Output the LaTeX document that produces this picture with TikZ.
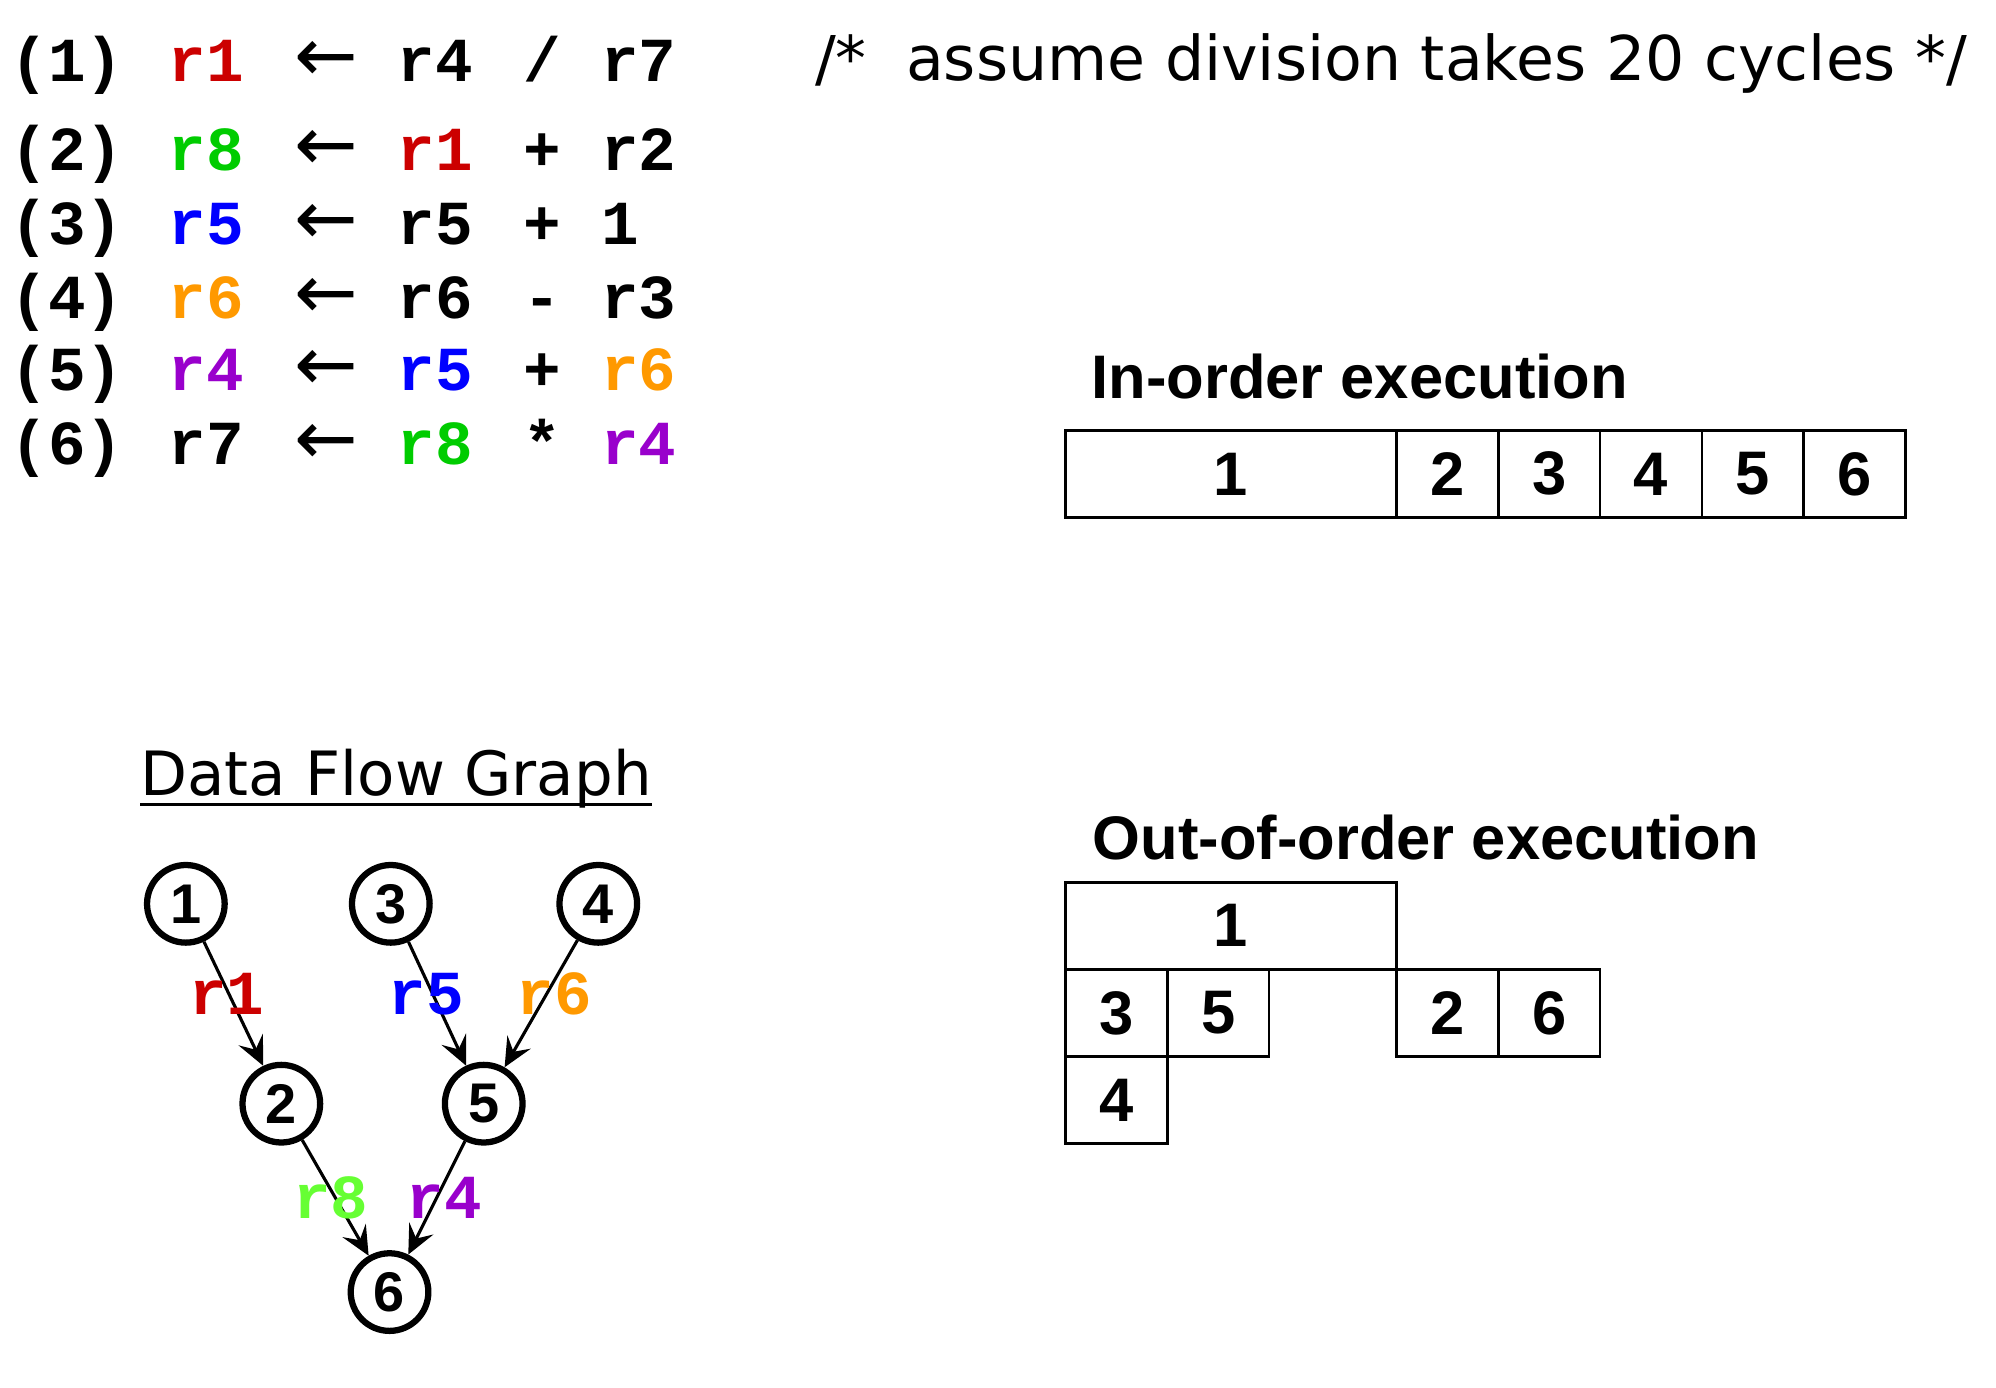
\documentclass[tikz,border=0pt]{standalone}
\usepackage{fontspec}
\setmainfont{Liberation Sans}
\newfontfamily\codefont{Liberation Mono}
\newfontfamily\notefont{DejaVu Sans}
\usetikzlibrary{positioning,arrows.meta}

\definecolor{regred}{HTML}{CC0000}
\definecolor{reggreen}{HTML}{00CC00}
\definecolor{regblue}{HTML}{0000FF}
\definecolor{regorange}{HTML}{FF9900}
\definecolor{regpurple}{HTML}{9900CC}
\definecolor{reglime}{HTML}{66FF33}

\tikzset{
  code/.style={font=\codefont\bfseries\fontsize{28}{30}\selectfont, inner sep=0pt, anchor=base west},
  assign/.style={font=\notefont\fontsize{34}{34}\selectfont, inner sep=0pt, anchor=base},
  regname/.style={font=\codefont\bfseries\fontsize{28}{30}\selectfont, inner sep=0pt},
  heading/.style={font=\bfseries\fontsize{27.5}{30}\selectfont, inner sep=0pt, anchor=base west},
  cell/.style={draw, line width=1.2pt, inner sep=0pt, outer sep=0pt,
    minimum width=1.6cm, minimum height=1.37cm, font=\bfseries\fontsize{27.5}{30}\selectfont},
  longcell/.style={cell, minimum width=5.2cm},
  vtx/.style={circle, draw, line width=2.8pt, minimum size=1.22cm, inner sep=0pt,
    font=\bfseries\fontsize{25}{27}\selectfont},
  flow/.style={-{Stealth[length=13pt, width=12pt, inset=5pt]}, line width=1.4pt},
}

% one instruction line: number, baseline, dest, src1, op, src2
\newcommand{\codeline}[6]{%
  \node[code] (num#1) at (8,#2) {(#1)};
  \node[code] (dst#1) at (132,#2) {#3};
  \node[assign] (arr#1) at (256,#2) {←};
  \node[code] (lhs#1) at (312,#2) {#4};
  \node[code, anchor=base] (op#1) at (426,#2) {#5};
  \node[code] (rhs#1) at (472,#2) {#6};
}

\begin{document}
\begin{tikzpicture}[x=0.02cm, y=-0.02cm]
  \useasboundingbox (0,0) rectangle (1568,1090);

  % instruction sequence
  \codeline{1}{64}{\textcolor{regred}{r1}}{r4}{/}{r7}
  \codeline{2}{134}{\textcolor{reggreen}{r8}}{\textcolor{regred}{r1}}{+}{r2}
  \codeline{3}{192}{\textcolor{regblue}{r5}}{r5}{+}{1}
  \codeline{4}{250}{\textcolor{regorange}{r6}}{r6}{-}{r3}
  \codeline{5}{307}{\textcolor{regpurple}{r4}}{\textcolor{regblue}{r5}}{+}{\textcolor{regorange}{r6}}
  \codeline{6}{365}{r7}{\textcolor{reggreen}{r8}}{*}{\textcolor{regpurple}{r4}}

  \node[font=\notefont\fontsize{27.6}{30}\selectfont, inner sep=0pt, anchor=base west]
    (note) at (640,63) {/*\ \ assume division takes 20 cycles */};

  % in-order schedule
  \node[heading] (inhead) at (857,313) {In-order execution};
  \node[longcell, anchor=north west] (io1) at (837,338) {1};
  \node[cell, right=0pt of io1] (io2) {2};
  \node[cell, right=0pt of io2] (io3) {3};
  \node[cell, right=0pt of io3] (io4) {4};
  \node[cell, right=0pt of io4] (io5) {5};
  \node[cell, right=0pt of io5] (io6) {6};

  % out-of-order schedule
  \node[heading] (oohead) at (858,675) {Out-of-order execution};
  \node[longcell, anchor=north west] (oo1) at (837,693) {1};
  \node[cell, anchor=north west] (oo3) at (oo1.south west) {3};
  \node[cell, right=0pt of oo3] (oo5) {5};
  \node[cell, anchor=north west] (oo2) at (oo1.south east) {2};
  \node[cell, right=0pt of oo2] (oo6) {6};
  \node[cell, below=0pt of oo3] (oo4) {4};

  % data flow graph
  \node[font=\notefont\fontsize{27.3}{30}\selectfont, inner sep=0pt, anchor=base west]
    (dfg) at (110,625) {Data Flow Graph};
  \draw[line width=1.7pt] ([yshift=-4pt]dfg.base west) -- ([yshift=-4pt]dfg.base east);

  \node[vtx] (v1) at (146,710) {1};
  \node[vtx] (v3) at (307,710) {3};
  \node[vtx] (v4) at (470,710) {4};
  \node[vtx] (v2) at (221,867) {2};
  \node[vtx] (v5) at (380,867) {5};
  \node[vtx] (v6) at (306,1015) {6};

  \draw[flow] (v1) -- node[regname, text=regred, xshift=-3pt, yshift=4.5pt] {r1} (v2);
  \draw[flow] (v3) -- node[regname, text=regblue, xshift=-4.8pt, yshift=4.5pt] {r5} (v5);
  \draw[flow] (v4) -- node[regname, text=regorange, xshift=6pt, yshift=4.5pt] {r6} (v5);
  \draw[flow] (v2) -- node[regname, text=reglime, xshift=-2pt] {r8} (v6);
  \draw[flow] (v5) -- node[regname, text=regpurple, xshift=3.5pt] {r4} (v6);
\end{tikzpicture}
\end{document}
